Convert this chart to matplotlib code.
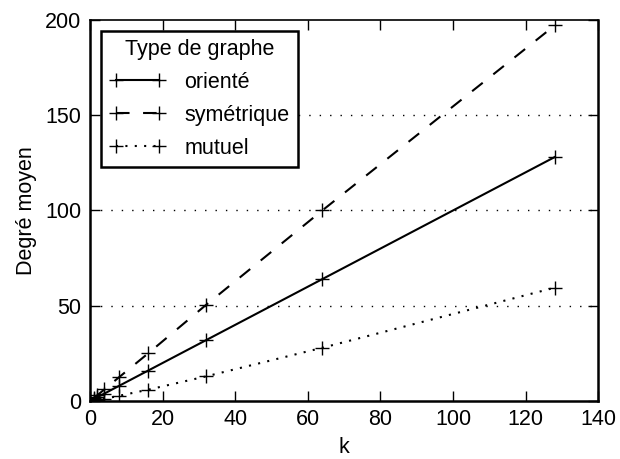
import matplotlib

matplotlib.use("Agg")
import matplotlib.pyplot as plt

plt.rcParams["font.family"] = ["Liberation Sans", "DejaVu Sans"]

# Average degree against k for each graph type
k = [1, 2, 4, 8, 16, 32, 64, 128]
oriente = [1, 2, 4, 8, 16, 32, 64, 128]
symetrique = [1.5, 3, 6.2, 12.5, 25, 50.5, 100, 197]
mutuel = [0.2, 0.5, 1.2, 2.8, 6, 13, 28, 59.5]

fig, ax = plt.subplots(figsize=(6.2, 4.59), dpi=100)
fig.subplots_adjust(left=0.145, right=0.965, top=0.957, bottom=0.126)

style = dict(color="black", lw=1.5, marker="+", ms=10, mew=1)
ax.plot(k, oriente, linestyle="-", label="orienté", **style)
ax.plot(k, symetrique, linestyle=(0, (6.5, 6.5)), label="symétrique", **style)
ax.plot(k, mutuel, linestyle=(0, (1, 3.5)), label="mutuel", **style)

ax.set_xlim(0, 140)
ax.set_ylim(0, 200)
ax.set_xticks(range(0, 141, 20))
ax.set_yticks(range(0, 201, 50))

# dotted horizontal grid lines only
for y in (50, 100, 150):
    ax.axhline(y, color="black", linestyle=(0, (1, 6.5)), lw=1, zorder=0)

fs = 15.5
ax.tick_params(direction="in", top=True, right=True, length=7, width=1,
               labelsize=fs, pad=6)
for side in ("left", "bottom", "right"):
    ax.spines[side].set_linewidth(1.8)
ax.spines["top"].set_linewidth(1.2)

ax.set_xlabel("k", fontsize=fs, labelpad=5)
ax.set_ylabel("Degré moyen", fontsize=fs, labelpad=6)

leg = ax.legend(title="Type de graphe", loc="upper left", numpoints=2,
                fontsize=fs, title_fontsize=fs, fancybox=False,
                framealpha=1, edgecolor="black", handlelength=2.6,
                handletextpad=0.9, borderaxespad=0.5, labelspacing=0.55,
                borderpad=0.4)
leg.get_frame().set_linewidth(1.8)

fig.savefig("out.png", dpi=100)
